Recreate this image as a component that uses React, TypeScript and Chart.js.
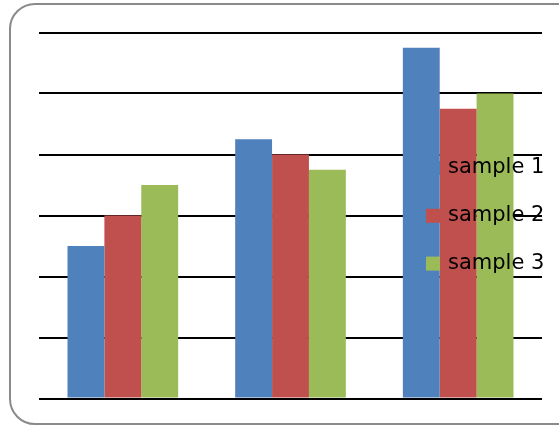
import React, { useEffect, useRef } from "react";
import { Chart, registerables } from "chart.js";

Chart.register(...registerables);

const categories = ["Category 1", "Category 2", "Category 3"];
const seriesNames = ["sample 1", "sample 2", "sample 3"];
const sample1 = [2.5, 4.25, 5.75];
const sample2 = [3, 4, 4.75];
const sample3 = [3.5, 3.75, 5];
const seriesColors = ["#4F81BD", "#C0504D", "#9BBB59"];
const yTicks = [0, 1, 2, 3, 4, 5, 6];

const overlayLegend = {
  id: "overlayLegend",
  afterDraw(chart: any) {
    const ctx = chart.ctx;
    ctx.save();
    ctx.font = "21px 'DejaVu Sans'";
    ctx.textBaseline = "middle";
    ctx.textAlign = "left";
    chart.data.datasets.forEach((ds: any, i: number) => {
      const cy = 168 + i * 47.8;
      ctx.fillStyle = ds.backgroundColor;
      ctx.fillRect(426, cy - 7, 14, 14);
      ctx.fillStyle = "#000";
      ctx.fillText(ds.label, 448, cy);
    });
    ctx.restore();
  },
};

export default function App() {
  const ref = useRef<HTMLCanvasElement | null>(null);
  useEffect(() => {
    if (!ref.current) return;
    const values = [sample1, sample2, sample3];
    const chart = new Chart(ref.current, {
      type: "bar",
      data: {
        labels: categories,
        datasets: seriesNames.map((name, i) => ({
          label: name,
          data: values[i],
          backgroundColor: seriesColors[i],
          borderWidth: 0,
          categoryPercentage: 0.66,
          barPercentage: 1,
        })),
      },
      options: {
        animation: false,
        responsive: false,
        maintainAspectRatio: false,
        layout: { padding: { left: 39, top: 32.5, right: 17, bottom: 28.5 } },
        plugins: { legend: { display: false }, tooltip: { enabled: false } },
        scales: {
          x: {
            grid: { display: false },
            border: { display: false },
            ticks: { display: false },
            afterFit: (s: any) => { s.height = 0; },
          },
          y: {
            min: yTicks[0],
            max: yTicks[yTicks.length - 1],
            afterBuildTicks: (s: any) => { s.ticks = yTicks.map((v) => ({ value: v })); },
            grid: { color: "#000", lineWidth: 2, drawTicks: false },
            border: { display: false },
            ticks: { display: false },
            afterFit: (s: any) => { s.width = 0; },
          },
        },
      },
      plugins: [overlayLegend],
    });
    return () => chart.destroy();
  }, []);

  return (
    <div style={{ position: "fixed", left: 0, top: 0, width: 559, height: 427, overflow: "hidden", background: "#fff" }}>
      <div
        style={{
          position: "absolute",
          left: 8.5,
          top: 3,
          width: 580,
          height: 422,
          border: "2px solid #8a8a8a",
          borderRadius: 26,
          boxSizing: "border-box",
        }}
      />
      <canvas ref={ref} width={559} height={427} style={{ position: "absolute", left: 0, top: 0, width: 559, height: 427 }} />
    </div>
  );
}
